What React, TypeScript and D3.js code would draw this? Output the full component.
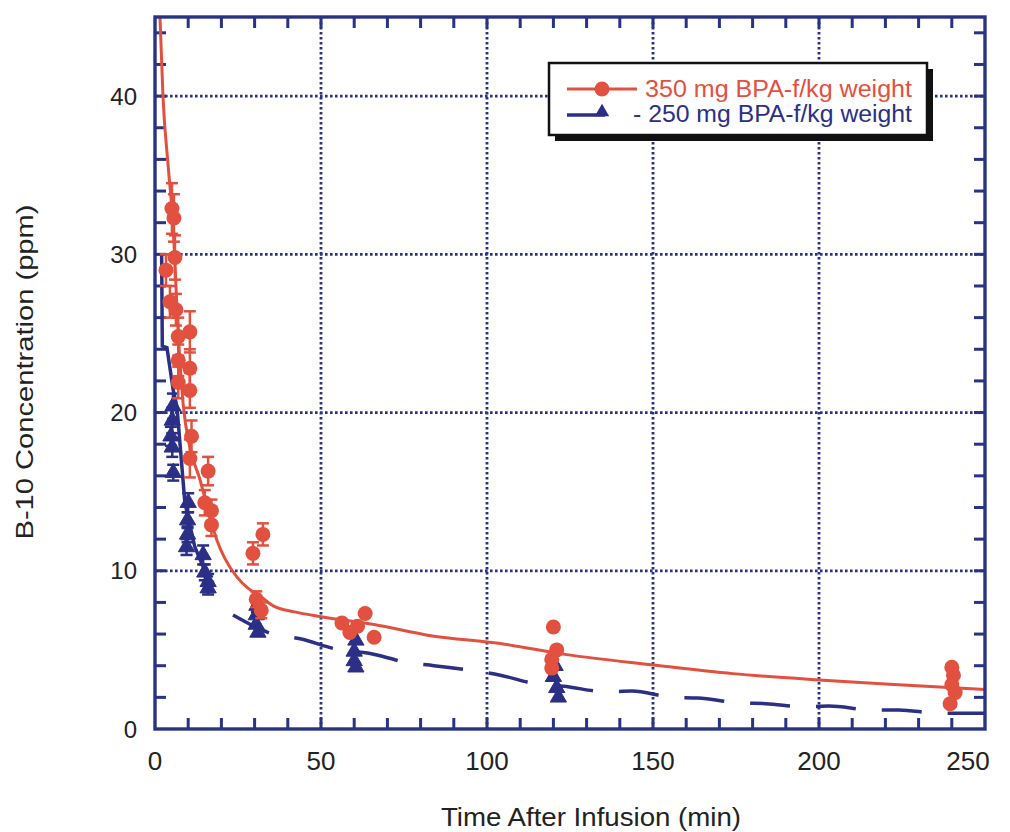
import React from "react";
import * as d3 from "d3";

// ---- Data ----
const xTicks = [0, 50, 100, 150, 200, 250];
const yTicks = [0, 10, 20, 30, 40];
const xMinor = [10, 20, 30, 40, 50, 60, 70, 80, 90, 100, 110, 120, 130, 140, 150, 160, 170, 180, 190, 200, 210, 220, 230, 240];
const yMinor = [2, 4, 6, 8, 10, 12, 14, 16, 18, 20, 22, 24, 26, 28, 30, 32, 34, 36, 38, 40, 42, 44];

// 350 mg BPA-f/kg: time (min), concentration (ppm), error (ppm)
const red350 = [
  { t: 3.3, v: 29.0, e: 1.0 },
  { t: 4.5, v: 27.0, e: 1.0 },
  { t: 5.1, v: 32.9, e: 1.6 },
  { t: 5.7, v: 32.3, e: 1.5 },
  { t: 6.0, v: 29.8, e: 1.4 },
  { t: 6.3, v: 26.5, e: 1.0 },
  { t: 7.0, v: 24.8, e: 1.2 },
  { t: 7.0, v: 23.3, e: 1.0 },
  { t: 7.0, v: 21.9, e: 1.0 },
  { t: 10.5, v: 25.1, e: 1.3 },
  { t: 10.5, v: 22.8, e: 1.2 },
  { t: 10.5, v: 21.4, e: 1.1 },
  { t: 11.0, v: 18.5, e: 1.0 },
  { t: 10.5, v: 17.1, e: 1.2 },
  { t: 16.0, v: 16.3, e: 0.9 },
  { t: 15.0, v: 14.3, e: 0.8 },
  { t: 17.0, v: 13.8, e: 0.7 },
  { t: 17.0, v: 12.9, e: 0.7 },
  { t: 32.5, v: 12.3, e: 0.7 },
  { t: 29.5, v: 11.1, e: 0.7 },
  { t: 30.5, v: 8.2, e: 0.5 },
  { t: 32.0, v: 7.5, e: 0.5 },
  { t: 56.3, v: 6.7, e: 0 },
  { t: 58.7, v: 6.1, e: 0 },
  { t: 61.0, v: 6.5, e: 0 },
  { t: 63.3, v: 7.3, e: 0 },
  { t: 66.0, v: 5.8, e: 0 },
  { t: 120.0, v: 6.45, e: 0 },
  { t: 121.0, v: 5.0, e: 0 },
  { t: 119.5, v: 4.4, e: 0 },
  { t: 119.5, v: 3.85, e: 0 },
  { t: 240.0, v: 3.9, e: 0 },
  { t: 240.5, v: 3.4, e: 0 },
  { t: 240.0, v: 2.8, e: 0 },
  { t: 241.0, v: 2.3, e: 0 },
  { t: 239.5, v: 1.6, e: 0 },
];

// 250 mg BPA-f/kg
const blue250 = [
  { t: 5.4, v: 20.4, e: 0.8 },
  { t: 5.2, v: 19.5, e: 0.8 },
  { t: 4.8, v: 18.5, e: 0.6 },
  { t: 5.2, v: 17.8, e: 0.6 },
  { t: 5.5, v: 16.2, e: 0.5 },
  { t: 10.0, v: 14.3, e: 0.6 },
  { t: 9.8, v: 13.2, e: 0.5 },
  { t: 9.8, v: 12.3, e: 0.5 },
  { t: 9.5, v: 11.5, e: 0.5 },
  { t: 14.5, v: 11.0, e: 0.6 },
  { t: 15.0, v: 9.9, e: 0.5 },
  { t: 16.0, v: 9.3, e: 0.5 },
  { t: 16.0, v: 8.9, e: 0.4 },
  { t: 30.7, v: 7.8, e: 0.4 },
  { t: 30.5, v: 7.2, e: 0 },
  { t: 30.5, v: 6.6, e: 0 },
  { t: 31.0, v: 6.1, e: 0 },
  { t: 60.5, v: 5.6, e: 0 },
  { t: 60.0, v: 4.9, e: 0 },
  { t: 60.0, v: 4.3, e: 0 },
  { t: 60.5, v: 3.9, e: 0 },
  { t: 120.5, v: 4.0, e: 0 },
  { t: 120.0, v: 3.3, e: 0 },
  { t: 121.0, v: 2.6, e: 0 },
  { t: 121.5, v: 2.0, e: 0 },
];

// Fitted curves
const redFit = [
  [1.5, 45], [2.4, 40], [4, 35.5], [5.4, 32], [7, 25], [8.5, 20.5], [10.5, 17.8],
  [13.5, 15.8], [16, 13.8], [18.7, 11.9], [21, 10.8], [24.7, 9.6], [28, 8.9],
  [31.6, 8.4], [35.5, 7.8], [42, 7.4], [50, 7.1], [66, 6.6], [83, 5.9], [104, 5.4],
  [124, 4.7], [150, 4.05], [174, 3.5], [200, 3.1], [224, 2.8], [250, 2.5],
];
const blueFitEarly = [
  [2.0, 30], [2.2, 24.2], [3.6, 24.1], [5.5, 21.4], [6.6, 20.4], [9, 14.3],
  [12, 11.5], [16, 9.5],
];
const blueFitLate = [
  [23.5, 7.2], [35.5, 6.0], [43.7, 5.7], [55.7, 5.0], [64, 4.8], [76, 4.2], [84, 4.0],
  [104, 3.4], [116, 2.8], [123, 2.7], [136, 2.35], [143.6, 2.4], [156, 2.0],
  [163.5, 1.96], [176, 1.65], [184, 1.6], [196, 1.4], [203, 1.45], [216, 1.2],
  [224, 1.2], [236, 1.0], [250, 1.0],
];

const legendLabels = ["350 mg BPA-f/kg weight", "- 250 mg BPA-f/kg weight"];

const RED = "#e2503f";
const BLUE = "#2b2f86";
const NAVY = "#283385";
const FONT = "'Liberation Sans', Arial, Helvetica, sans-serif";

export default function App() {
  const W = 1010, H = 832;
  const x = d3.scaleLinear().domain([0, 250]).range([155, 985]);
  const y = d3.scaleLinear().domain([0, 45]).range([729, 17]);
  const [x0, x1] = x.range();
  const [yb, yt] = y.range();

  const line = d3.line<number[]>().x((d) => x(d[0])).y((d) => y(d[1])).curve(d3.curveMonotoneX);
  const lineEarly = d3.line<number[]>().x((d) => x(d[0])).y((d) => y(d[1]));
  const tri = d3.symbol(d3.symbolTriangle, 115)();
  const triLegend = d3.symbol(d3.symbolTriangle, 90)();

  const cap = 6;
  const tickLen = 11;

  return (
    <svg width={W} height={H} style={{ position: "absolute", left: 0, top: 0, background: "#fff" }}
      fontFamily={FONT}>
      <defs>
        <clipPath id="plotclip">
          <rect x={x0} y={yt} width={x1 - x0} height={yb - yt} />
        </clipPath>
      </defs>
      {/* gridlines */}
      {xTicks.filter((t) => t > 0 && t < 250).map((t) => (
        <line key={"gx" + t} x1={x(t)} x2={x(t)} y1={yt} y2={yb} stroke={NAVY}
          strokeWidth={2.8} strokeDasharray="2.6,2.4" />
      ))}
      {yTicks.filter((t) => t > 0).map((t) => (
        <line key={"gy" + t} x1={x0} x2={x1} y1={y(t)} y2={y(t)} stroke={NAVY}
          strokeWidth={2.8} strokeDasharray="2.6,2.4" />
      ))}

      {/* inward ticks (rects) */}
      {xMinor.map((t) => (
        <rect key={"tb" + t} x={x(t) - 1.5} y={yb - tickLen} width={3} height={tickLen} fill={NAVY} />
      ))}
      {xMinor.map((t) => (
        <rect key={"tt" + t} x={x(t) - 1.5} y={yt} width={3} height={tickLen} fill={NAVY} />
      ))}
      {yMinor.map((t) => (
        <rect key={"tl" + t} x={x0} y={y(t) - 1.5} width={tickLen} height={3} fill={NAVY} />
      ))}
      {yMinor.map((t) => (
        <rect key={"tr" + t} x={x1 - tickLen} y={y(t) - 1.5} width={tickLen} height={3} fill={NAVY} />
      ))}

      <g clipPath="url(#plotclip)">
        {/* fitted curves */}
        <path d={line(redFit) || ""} fill="none" stroke={RED} strokeWidth={3} />
        <path d={lineEarly(blueFitEarly) || ""} fill="none" stroke={BLUE} strokeWidth={3.5} />
        <path d={line(blueFitLate) || ""} fill="none" stroke={BLUE} strokeWidth={3.5}
          strokeDasharray="40,26" />

        {/* blue triangles */}
        {blue250.map((d, i) => (
          <g key={"b" + i} fill={BLUE} stroke={BLUE} strokeWidth={2.5}>
            {d.e > 0 && (
              <>
                <line x1={x(d.t)} x2={x(d.t)} y1={y(d.v + d.e)} y2={y(d.v - d.e)} />
                <line x1={x(d.t) - cap} x2={x(d.t) + cap} y1={y(d.v + d.e)} y2={y(d.v + d.e)} />
                <line x1={x(d.t) - cap} x2={x(d.t) + cap} y1={y(d.v - d.e)} y2={y(d.v - d.e)} />
              </>
            )}
            <path d={tri || ""} transform={`translate(${x(d.t)},${y(d.v)})`} strokeWidth={1} />
          </g>
        ))}

        {/* red circles */}
        {red350.map((d, i) => (
          <g key={"r" + i} fill={RED} stroke={RED} strokeWidth={2.5}>
            {d.e > 0 && (
              <>
                <line x1={x(d.t)} x2={x(d.t)} y1={y(d.v + d.e)} y2={y(d.v - d.e)} />
                <line x1={x(d.t) - cap} x2={x(d.t) + cap} y1={y(d.v + d.e)} y2={y(d.v + d.e)} />
                <line x1={x(d.t) - cap} x2={x(d.t) + cap} y1={y(d.v - d.e)} y2={y(d.v - d.e)} />
              </>
            )}
            <circle cx={x(d.t)} cy={y(d.v)} r={7.5} stroke="none" />
          </g>
        ))}
      </g>

      {/* frame */}
      <rect x={x0} y={yt} width={x1 - x0} height={yb - yt} fill="none" stroke={NAVY} strokeWidth={3.4} />

      {/* tick labels */}
      {yTicks.map((t) => (
        <text key={"ly" + t} x={137} y={y(t)} dy="0.36em" textAnchor="end" fontSize={24} fill="#222">
          {t}
        </text>
      ))}
      {xTicks.map((t) => (
        <text key={"lx" + t} x={Math.min(x(t), 968)} y={770} textAnchor="middle" fontSize={26}
          fill="#222">
          {t}
        </text>
      ))}

      {/* axis titles */}
      <text x={591} y={826} textAnchor="middle" fontSize={25} fill="#222" textLength={300}
        lengthAdjust="spacingAndGlyphs">
        Time After Infusion (min)
      </text>
      <text transform={`translate(33,${372}) rotate(-90)`} textAnchor="middle" fontSize={24}
        fill="#222" textLength={335} lengthAdjust="spacingAndGlyphs">
        B-10 Concentration (ppm)
      </text>

      {/* legend */}
      <g>
        <rect x={555} y={69} width={378} height={72} fill="#111" />
        <rect x={549} y={63} width={378} height={72} fill="#fff" stroke="#111" strokeWidth={2.5} />
        <line x1={567} x2={637} y1={89} y2={89} stroke={RED} strokeWidth={3} />
        <circle cx={602} cy={89} r={7.5} fill={RED} />
        <text x={645} y={97} fontSize={23} fill={RED} textLength={267} lengthAdjust="spacingAndGlyphs">
          {legendLabels[0]}
        </text>
        <line x1={567} x2={605} y1={115} y2={115} stroke={BLUE} strokeWidth={3.5} />
        <path d={triLegend || ""} transform={`translate(602,${112})`} fill={BLUE} />
        <text x={633} y={122} fontSize={23} fill={BLUE} textLength={279} lengthAdjust="spacingAndGlyphs">
          {legendLabels[1]}
        </text>
      </g>
    </svg>
  );
}
